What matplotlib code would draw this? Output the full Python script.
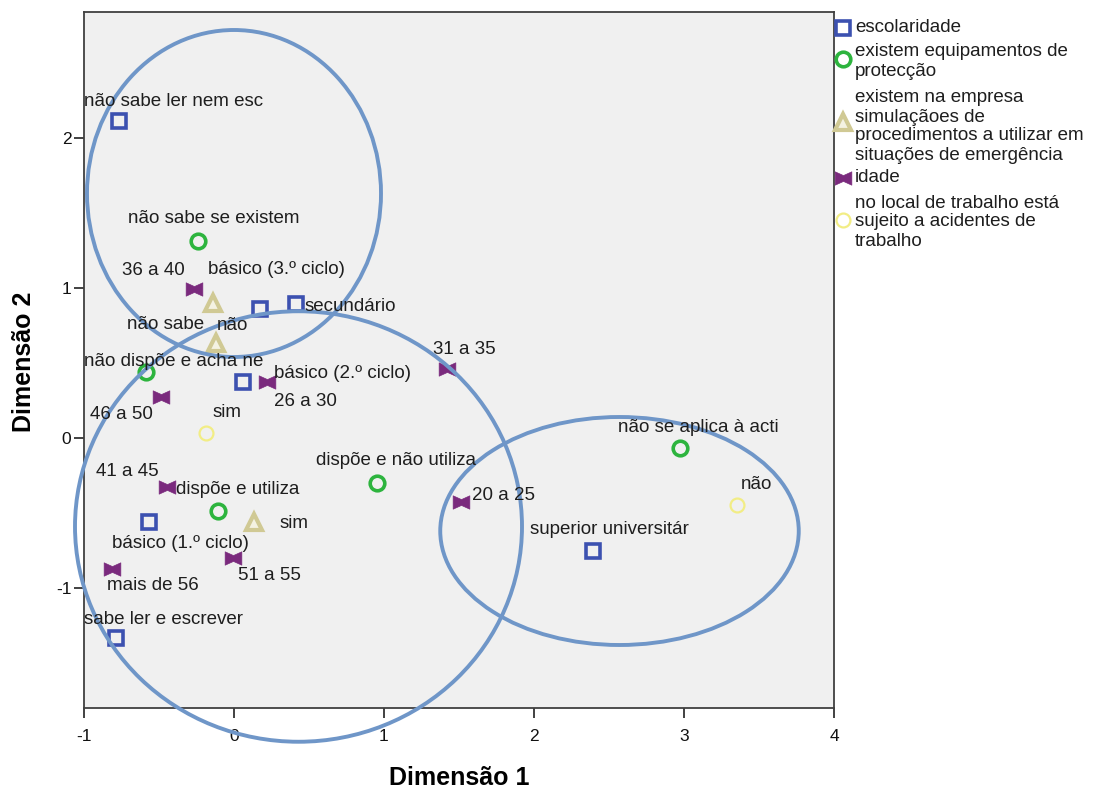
import matplotlib
matplotlib.use("Agg")
import matplotlib.pyplot as plt
from matplotlib.patches import Ellipse
from matplotlib.lines import Line2D
from matplotlib.path import Path

plt.rcParams['font.family'] = ['Liberation Sans', 'DejaVu Sans']
plt.rcParams['axes.unicode_minus'] = False

# ---- category quantifications (Dimensão 1, Dimensão 2) ----
esc_labels = ["não sabe ler nem esc", "sabe ler e escrever", "básico (1.º ciclo)",
              "básico (2.º ciclo)", "básico (3.º ciclo)", "secundário",
              "superior universitár"]
esc_x = [-0.77, -0.79, -0.57, 0.06, 0.17, 0.41, 2.39]
esc_y = [2.11, -1.33, -0.56, 0.37, 0.86, 0.89, -0.75]

equip_labels = ["não sabe se existem", "não dispõe e acha ne", "dispõe e utiliza",
                "dispõe e não utiliza", "não se aplica à acti"]
equip_x = [-0.24, -0.59, -0.11, 0.95, 2.97]
equip_y = [1.31, 0.44, -0.49, -0.30, -0.07]

sim_labels = ["não sabe", "não", "sim"]
sim_x = [-0.14, -0.12, 0.13]
sim_y = [0.90, 0.63, -0.56]

idade_labels = ["20 a 25", "26 a 30", "31 a 35", "36 a 40", "41 a 45",
                "46 a 50", "51 a 55", "mais de 56"]
idade_x = [1.51, 0.22, 1.42, -0.27, -0.45, -0.49, -0.01, -0.81]
idade_y = [-0.43, 0.37, 0.46, 0.99, -0.33, 0.27, -0.80, -0.87]

local_labels = ["sim", "não"]
local_x = [-0.19, 3.35]
local_y = [0.03, -0.45]

legend_titles = ["escolaridade",
                 "existem equipamentos de\nprotecção",
                 "existem na empresa\nsimulaçãoes de\nprocedimentos a utilizar em\nsituações de emergência",
                 "idade",
                 "no local de trabalho está\nsujeito a acidentes de\ntrabalho"]

x_ticks = [-1, 0, 1, 2, 3, 4]
y_ticks = [-1, 0, 1, 2]

# label offsets in pixels (dx to left edge of text, dy to text centre)
esc_off = [(-34, 20), (-32, 18), (-36, -21), (31, 9), (-52, 40), (9, -2), (-62, 21)]
equip_off = [(-70, 23), (-62, 10), (-42, 22), (-61, 22), (-61, 21)]
sim_off = [(-86, -22), (1, 18), (26, -2)]
idade_off = [(11, 7), (7, -19), (-14, 19), (-71, 19), (-71, 16), (-71, -17), (5, -18), (-5, -17)]
local_off = [(7, 21), (4, 21)]

# sideways bow-tie marker
bowtie = Path([(-1, -0.8), (-1, 0.8), (0, 0.35), (1, 0.8), (1, -0.8), (0, -0.35), (-1, -0.8)],
              [Path.MOVETO] + [Path.LINETO] * 5 + [Path.CLOSEPOLY])

styles = [
    dict(marker='s', mfc='none', mec='#3c51b0', ms=10, mew=2.6),
    dict(marker='o', mfc='none', mec='#2db43e', ms=10.5, mew=2.6),
    dict(marker='^', mfc='#f4f2e2', mec='#d0c994', ms=11.5, mew=3.0),
    dict(marker=bowtie, mfc='#7a2a7d', mec='#7a2a7d', ms=12, mew=0.5),
    dict(marker='o', mfc='none', mec='#f2ed85', ms=10, mew=1.6),
]

W, H = 1099, 791
fig = plt.figure(figsize=(W / 100, H / 100), dpi=100)
fig.patch.set_facecolor('white')
ax = fig.add_axes([84 / W, 1 - 708 / H, 750 / W, 696 / H])
ax.set_facecolor('#f0f0f0')
ax.set_xlim(-1, 4)
ax.set_ylim(-1.8, 2.84)

series = [
    (esc_x, esc_y, esc_labels, esc_off),
    (equip_x, equip_y, equip_labels, equip_off),
    (sim_x, sim_y, sim_labels, sim_off),
    (idade_x, idade_y, idade_labels, idade_off),
    (local_x, local_y, local_labels, local_off),
]

ell_color = '#6f96c8'
ellipses = [
    ((0.0, 1.63), 1.96, 2.18, True),
    ((0.43, -0.59), 2.98, 2.87, False),
    ((2.57, -0.62), 2.39, 1.52, True),
]
for (c, w, h, clip) in ellipses:
    e = Ellipse(c, w, h, fill=False, edgecolor=ell_color, lw=2.8, zorder=4)
    e.set_clip_on(clip)
    ax.add_patch(e)

for (xs, ys, labs, offs), st in zip(series, styles):
    ax.plot(xs, ys, linestyle='none', zorder=3, **st)
    for x, y, lab, (dx, dy) in zip(xs, ys, labs, offs):
        ax.annotate(lab, (x, y), xytext=(dx, dy), textcoords='offset pixels',
                    ha='left', va='center', fontsize=13.5, color='#1e1e1e',
                    zorder=5, annotation_clip=False, clip_on=True)

ax.set_xticks(x_ticks)
ax.set_yticks(y_ticks)
ax.tick_params(direction='out', length=7, width=1.3, labelsize=12.5, colors='#333333',
               labelcolor='#111111')
ax.tick_params(axis='x', pad=8)
ax.tick_params(axis='y', pad=2)
for s in ax.spines.values():
    s.set_color('#404040')
    s.set_linewidth(1.3)

ax.set_xlabel('Dimensão 1', fontsize=18, fontweight='bold')
ax.set_ylabel('Dimensão 2', fontsize=18, fontweight='bold')
ax.xaxis.set_label_coords(0.5, (708 - 766) / 696)
ax.yaxis.set_label_coords((36 - 84) / 750, 0.5 - 2 / 696)

# legend drawn in figure pixel coordinates
def fx(px):
    return px / W

def fy(py):
    return 1 - py / H

legend_marker_y = [28, 59, 122, 178, 220]
legend_line_y = [[28], [52, 72], [97, 117, 136, 155], [178], [203, 222, 242]]
for st, my, title, lys in zip(styles, legend_marker_y, legend_titles, legend_line_y):
    fig.add_artist(Line2D([fx(843)], [fy(my)], transform=fig.transFigure,
                          linestyle='none', **st))
    for line, ly in zip(title.split('\n'), lys):
        fig.text(fx(855), fy(ly), line, ha='left', va='center',
                 fontsize=13.5, color='#1e1e1e')

fig.savefig('out.png', dpi=100)
